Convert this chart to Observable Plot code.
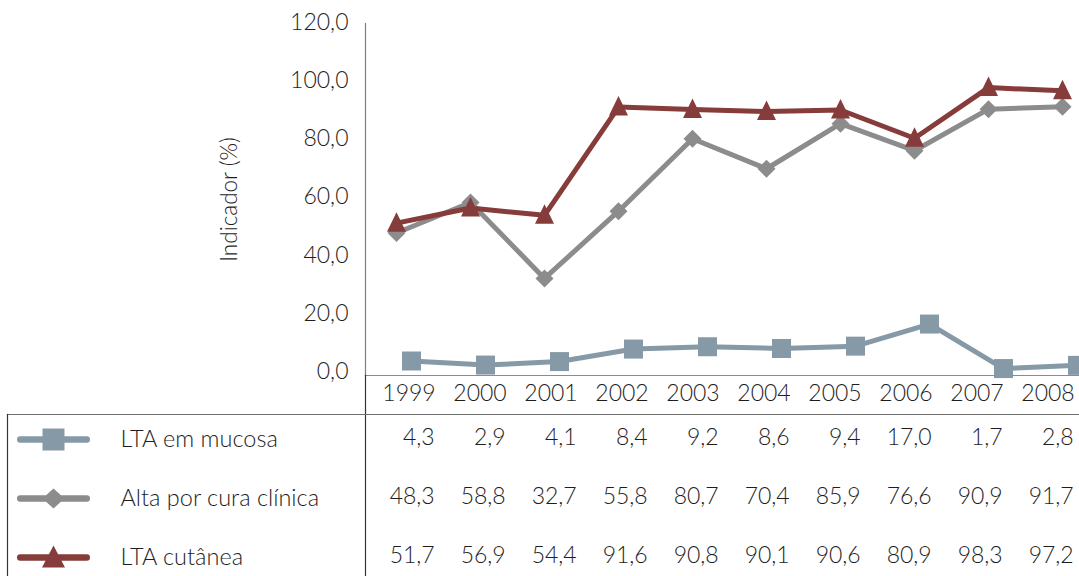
<!DOCTYPE html>
<html>
<head>
<meta charset="utf-8">
<script src="https://cdn.jsdelivr.net/npm/d3@7"></script>
<script src="https://cdn.jsdelivr.net/npm/@observablehq/plot@0.6"></script>
<style>
  html, body { margin: 0; padding: 0; background: #fff; }
  #chart { position: relative; width: 1079px; height: 576px; }
  #chart svg { position: absolute; left: 0; top: 0; }
</style>
</head>
<body>
<div id="chart"></div>
<script>
// Years and the three indicators (%)
const years = [1999, 2000, 2001, 2002, 2003, 2004, 2005, 2006, 2007, 2008];
const seriesNames = ["LTA em mucosa", "Alta por cura clínica", "LTA cutânea"];
const mucosa = [4.3, 2.9, 4.1, 8.4, 9.2, 8.6, 9.4, 17.0, 1.7, 2.8];
const curaClinica = [48.3, 58.8, 32.7, 55.8, 80.7, 70.4, 85.9, 76.6, 90.9, 91.7];
const cutanea = [51.7, 56.9, 54.4, 91.6, 90.8, 90.1, 90.6, 80.9, 98.3, 97.2];
const yTicks = [0, 20, 40, 60, 80, 100, 120];
const seriesColors = ["#8599a6", "#8c8c8c", "#853c3a"];

const seriesValues = [mucosa, curaClinica, cutanea];
const rows = seriesNames.flatMap((s, i) =>
  seriesValues[i].map((v, j) => ({series: s, year: years[j], value: v}))
);
const fmt = v => v.toFixed(1).replace(".", ",");

const W = 1079, H = 576;
const font = "Lato, 'Open Sans', sans-serif";
const ink = "#1e1e1e";

// Marker shapes drawn at a fixed pixel size
const squareMark = {draw(c) { c.rect(-9.5, -9.5, 19, 19); }};
const diamondMark = {draw(c) { c.moveTo(0, -9); c.lineTo(9, 0); c.lineTo(0, 9); c.lineTo(-9, 0); c.closePath(); }};
const triangleMark = {draw(c) { c.moveTo(0, -11); c.lineTo(9.5, 8.5); c.lineTo(-9.5, 8.5); c.closePath(); }};
const markers = [squareMark, diamondMark, triangleMark];

// Legend swatches: a rounded bar with the marker on top
function bar(c) {
  const h = 3.2, L = 36.5;
  c.moveTo(-L + h, -h);
  c.lineTo(L - h, -h);
  c.arc(L - h, 0, h, -Math.PI / 2, Math.PI / 2);
  c.lineTo(-L + h, h);
  c.arc(-L + h, 0, h, Math.PI / 2, 3 * Math.PI / 2);
  c.closePath();
}
const legendSwatches = [
  {draw(c) { bar(c); c.rect(-11, -11, 22, 22); }},
  {draw(c) { bar(c); c.moveTo(0, -10); c.lineTo(11, 0); c.lineTo(0, 10); c.lineTo(-11, 0); c.closePath(); }},
  {draw(c) { bar(c); c.moveTo(0, -12); c.lineTo(11.5, 10); c.lineTo(-11.5, 10); c.closePath(); }}
];

// Line chart
const chart = Plot.plot({
  width: W, height: H,
  marginLeft: 365, marginRight: 0, marginTop: 23, marginBottom: 201,
  style: {fontFamily: font, fontSize: "23px", fontWeight: 300, color: ink, background: "transparent"},
  x: {type: "point", domain: years, range: [392, 1065], padding: 0, axis: null},
  y: {domain: [0, 120], range: [373, 24]},
  color: {domain: seriesNames, range: seriesColors},
  marks: [
    Plot.frame({anchor: "left", stroke: "#7f7f7f", strokeWidth: 1.2}),
    Plot.frame({anchor: "bottom", stroke: "#8c8c8c", strokeWidth: 1.2}),
    Plot.axisY({
      ticks: yTicks, tickFormat: fmt, tickSize: 0, tickPadding: 17, fontSize: 23, dy: -2,
      label: null
    }),
    Plot.axisY({
      ticks: [], tickSize: 0, fontSize: 22.5,
      label: "Indicador (%)", labelAnchor: "center", labelArrow: "none", labelOffset: 144
    }),
    ...seriesNames.map((s, i) =>
      Plot.line(rows.filter(d => d.series === s), {
        x: "year", y: "value", stroke: "series", strokeWidth: 5,
        strokeLinejoin: "round", dx: i === 0 ? 15 : 0
      })
    ),
    ...seriesNames.map((s, i) =>
      Plot.dot(rows.filter(d => d.series === s), {
        x: "year", y: "value", fill: "series", symbol: markers[i], r: 8,
        dx: i === 0 ? 15 : 0
      })
    )
  ]
});

// Data table: years and values per column
const colWidth = (1079 - 365) / years.length;
const table = Plot.plot({
  width: W, height: H,
  marginLeft: 365, marginRight: 0, marginTop: 375, marginBottom: 0,
  style: {fontFamily: font, fontSize: "23px", fontWeight: 300, color: ink, background: "transparent"},
  x: {type: "band", domain: years, range: [365, 1079], padding: 0, axis: null},
  y: {type: "point", domain: seriesNames, range: [437, 555], padding: 0, axis: null},
  marks: [
    Plot.frame({anchor: "left", stroke: "#333", strokeWidth: 1.2}),
    Plot.text(years, {
      x: d => d, text: d => String(d), frameAnchor: "top", lineAnchor: "middle", dy: 18,
      textAnchor: "end", dx: colWidth / 2 - 3
    }),
    Plot.text(rows, {
      x: "year", y: "series", text: d => fmt(d.value),
      textAnchor: "end", dx: colWidth / 2 - 4
    })
  ]
});

// Table outline and legend column
const legend = Plot.plot({
  width: W, height: H,
  marginLeft: 7, marginRight: 0, marginTop: 414, marginBottom: 0,
  style: {fontFamily: font, fontSize: "23.5px", fontWeight: 300, color: ink, background: "transparent"},
  y: {type: "point", domain: seriesNames, range: [438, 557], padding: 0, axis: null},
  color: {domain: seriesNames, range: seriesColors},
  marks: [
    Plot.frame({anchor: "top", stroke: "#6f6f6f", strokeWidth: 1.2}),
    Plot.frame({anchor: "left", stroke: "#333", strokeWidth: 1.2}),
    ...seriesNames.map((s, i) =>
      Plot.dot([s], {y: d => d, fill: d => d, symbol: legendSwatches[i], r: 8, frameAnchor: "left", dx: 46})
    ),
    Plot.text(seriesNames, {y: d => d, text: d => d, frameAnchor: "left", textAnchor: "start", dx: 113})
  ]
});

const root = document.getElementById("chart");
root.append(chart, table, legend);
</script>
</body>
</html>
